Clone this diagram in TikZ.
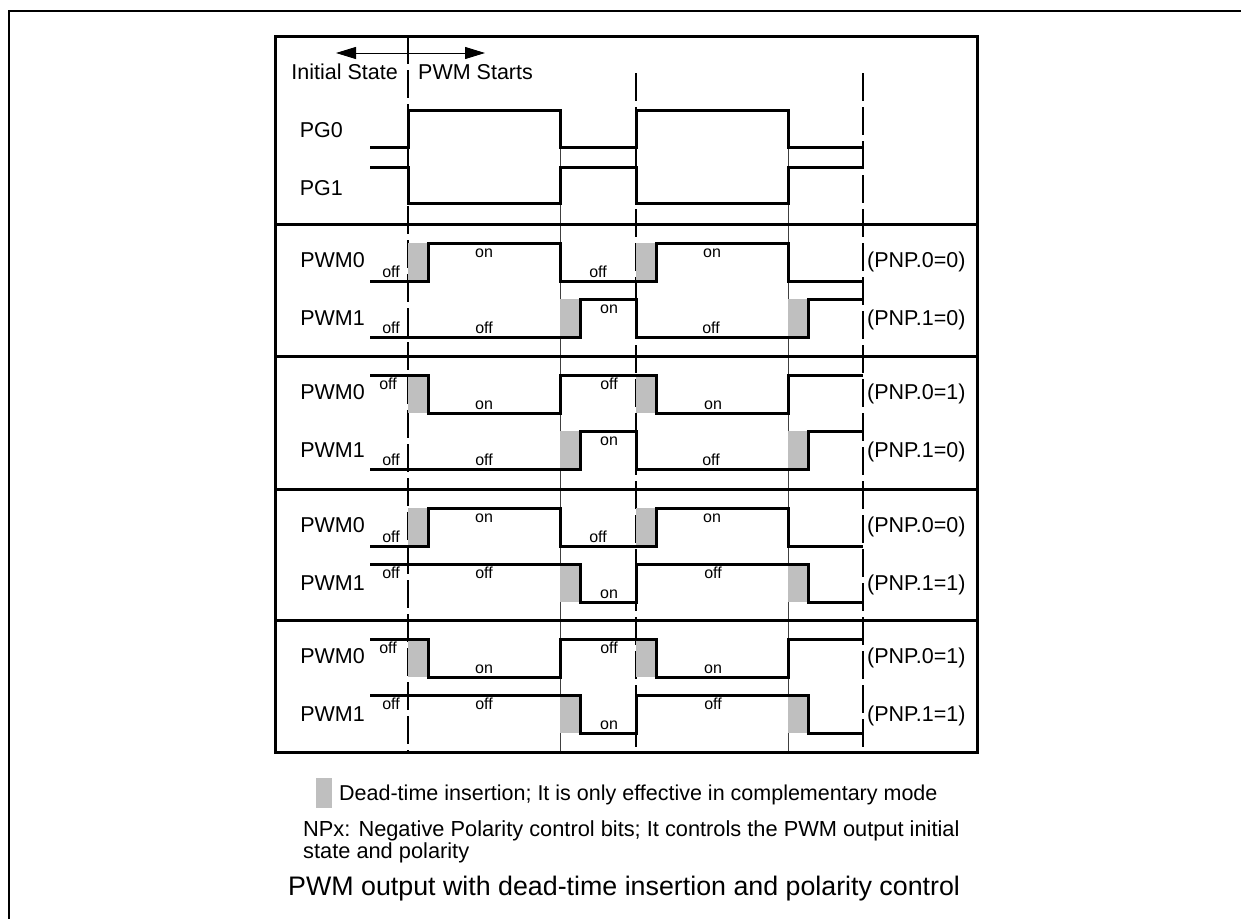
\documentclass[tikz,border=0pt]{standalone}
\usepackage{fontspec}
\setmainfont{Liberation Sans}
\usetikzlibrary{arrows.meta}
\tikzset{
  frame/.style={line width=2.4pt},
  boxline/.style={line width=3pt},
  sig/.style={line width=3pt, line join=miter},
  dashv/.style={line width=1.4pt, dash pattern=on 28pt off 6pt},
  thinv/.style={line width=0.9pt, black!75},
  dead/.style={fill=black!25},
  lab/.style={font=\fontsize{21.5}{25}\selectfont, inner sep=0pt},
  sm/.style={font=\fontsize{16}{18}\selectfont, inner sep=0pt},
  leg/.style={font=\fontsize{21.5}{24}\selectfont, inner sep=0pt, anchor=base west},
}
\newcommand{\hilab}[4]{\node[sm,anchor=base] (#1) at (#2,{#3+14}) {#4};}
\newcommand{\lolab}[4]{\node[sm,anchor=base] (#1) at (#2,{#3-4}) {#4};}
% PWM0 non-inverted
\newcommand{\wavAn}[3]{%
  \fill[dead] (408,#2) rectangle (428,#3);
  \fill[dead] (636,#2) rectangle (656,#3);
  \draw[sig] (370,#3) -- (428,#3) -- (428,#2) -- (560,#2) -- (560,#3) -- (656,#3) -- (656,#2) -- (788,#2) -- (788,#3) -- (863,#3);
  \lolab{#1a}{391}{#3}{off}\hilab{#1b}{484}{#2}{on}\lolab{#1c}{598}{#3}{off}\hilab{#1d}{712}{#2}{on}}
% PWM0 inverted
\newcommand{\wavAi}[3]{%
  \fill[dead] (408,#2) rectangle (428,#3);
  \fill[dead] (636,#2) rectangle (656,#3);
  \draw[sig] (370,#2) -- (428,#2) -- (428,#3) -- (560,#3) -- (560,#2) -- (656,#2) -- (656,#3) -- (788,#3) -- (788,#2) -- (863,#2);
  \hilab{#1a}{388}{#2}{off}\lolab{#1b}{484}{#3}{on}\hilab{#1c}{609}{#2}{off}\lolab{#1d}{713}{#3}{on}}
% PWM1 non-inverted
\newcommand{\wavBn}[3]{%
  \fill[dead] (560,#2) rectangle (580,#3);
  \fill[dead] (788,#2) rectangle (808,#3);
  \draw[sig] (370,#3) -- (580,#3) -- (580,#2) -- (636,#2) -- (636,#3) -- (808,#3) -- (808,#2) -- (863,#2);
  \lolab{#1a}{391}{#3}{off}\lolab{#1b}{484}{#3}{off}\hilab{#1c}{609}{#2}{on}\lolab{#1d}{711}{#3}{off}}
% PWM1 inverted
\newcommand{\wavBi}[3]{%
  \fill[dead] (560,#2) rectangle (580,#3);
  \fill[dead] (788,#2) rectangle (808,#3);
  \draw[sig] (370,#2) -- (580,#2) -- (580,#3) -- (636,#3) -- (636,#2) -- (808,#2) -- (808,#3) -- (863,#3);
  \hilab{#1a}{391}{#2}{off}\hilab{#1b}{484}{#2}{off}\lolab{#1c}{609}{#3}{on}\hilab{#1d}{713}{#2}{off}}
\begin{document}
\begin{tikzpicture}[x=1pt,y=-1pt]
\useasboundingbox (0,0) rectangle (1241,918);
\fill[white] (0,0) rectangle (1241,918);
% outer frame
\draw[frame] (9,920) -- (9,11) -- (1243,11);
% vertical time lines
\draw[dashv] (408,36) -- (408,752);
\draw[dashv] (636,73) -- (636,752);
\draw[dashv] (863,73) -- (863,752);
\draw[thinv] (560,110) -- (560,752);
\draw[thinv] (788,110) -- (788,752);
% main box
\draw[boxline] (275,36) rectangle (977,752);
\foreach \yy in {224,356,489,620} \draw[boxline] (275,\yy) -- (977,\yy);
% top panel
\coordinate (al) at (336,53);
\coordinate (ar) at (485,53);
\draw[line width=1pt,{Triangle[length=20pt,width=12pt]}-{Triangle[length=20pt,width=12pt]}] (al) -- (ar);
\node[lab,anchor=base east] (init) at (398,79) {Initial State};
\node[lab,anchor=base west] (start) at (418,79) {PWM Starts};
\node[lab,anchor=base east] (pg0) at (343,137) {PG0};
\node[lab,anchor=base east] (pg1) at (343,195) {PG1};
\draw[sig] (370,147) -- (408,147) -- (408,110) -- (560,110) -- (560,147) -- (636,147) -- (636,110) -- (788,110) -- (788,147) -- (863,147);
\draw[sig] (370,167) -- (408,167) -- (408,203) -- (560,203) -- (560,167) -- (636,167) -- (636,203) -- (788,203) -- (788,167) -- (863,167);
% panel 2
\node[lab,anchor=base east] (p2a) at (365,267) {PWM0};
\node[lab,anchor=base east] (p2b) at (365,325) {PWM1};
\node[lab,anchor=base west] (n2a) at (867,267) {(PNP.0=0)};
\node[lab,anchor=base west] (n2b) at (867,325) {(PNP.1=0)};
\wavAn{w2a}{243}{281}
\wavBn{w2b}{299}{337}
% panel 3
\node[lab,anchor=base east] (p3a) at (365,399) {PWM0};
\node[lab,anchor=base east] (p3b) at (365,457) {PWM1};
\node[lab,anchor=base west] (n3a) at (867,399) {(PNP.0=1)};
\node[lab,anchor=base west] (n3b) at (867,457) {(PNP.1=0)};
\wavAi{w3a}{375}{413}
\wavBn{w3b}{431}{469}
% panel 4
\node[lab,anchor=base east] (p4a) at (365,532) {PWM0};
\node[lab,anchor=base east] (p4b) at (365,590) {PWM1};
\node[lab,anchor=base west] (n4a) at (867,532) {(PNP.0=0)};
\node[lab,anchor=base west] (n4b) at (867,590) {(PNP.1=1)};
\wavAn{w4a}{508}{546}
\wavBi{w4b}{564}{602}
% panel 5
\node[lab,anchor=base east] (p5a) at (365,663) {PWM0};
\node[lab,anchor=base east] (p5b) at (365,721) {PWM1};
\node[lab,anchor=base west] (n5a) at (867,663) {(PNP.0=1)};
\node[lab,anchor=base west] (n5b) at (867,721) {(PNP.1=1)};
\wavAi{w5a}{639}{677}
\wavBi{w5b}{695}{733}
% legend
\fill[dead] (316,778) rectangle (332,808);
\node[leg] (leg1) at (339,800) {Dead-time insertion; It is only effective in complementary mode};
\node[leg,font=\fontsize{21.8}{24}\selectfont] (leg2) at (303,836) {NPx: Negative Polarity control bits; It controls the PWM output initial};
\node[leg,font=\fontsize{21.8}{24}\selectfont] (leg3) at (303,858) {state and polarity};
\node[leg,font=\fontsize{26.8}{30}\selectfont] (cap) at (288,895) {PWM output with dead-time insertion and polarity control};
\end{tikzpicture}
\end{document}
